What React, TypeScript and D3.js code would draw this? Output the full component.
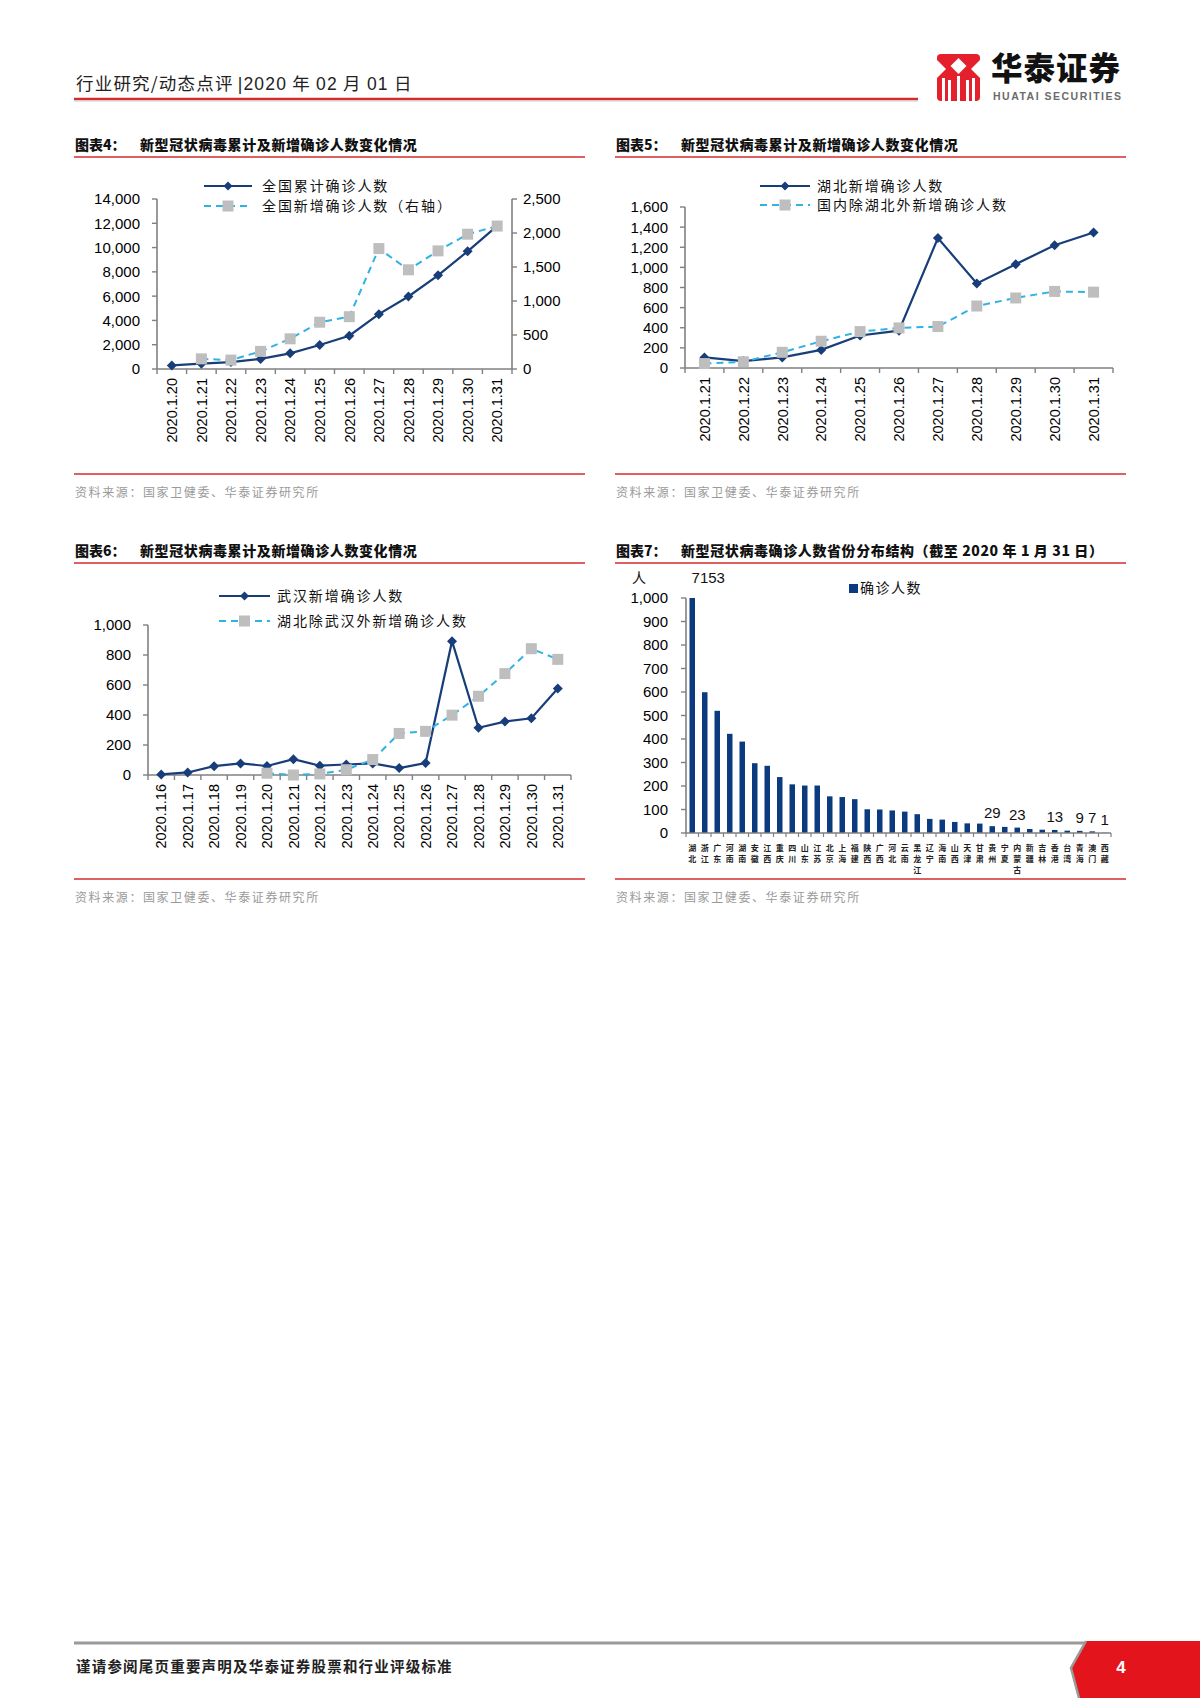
import React from 'react';
import * as d3 from 'd3';

// ---------------- DATA ----------------
const dates4 = ['2020.1.20', '2020.1.21', '2020.1.22', '2020.1.23', '2020.1.24', '2020.1.25', '2020.1.26', '2020.1.27', '2020.1.28', '2020.1.29', '2020.1.30', '2020.1.31'];
const nationalCumulative = [291, 440, 571, 830, 1287, 1975, 2744, 4515, 5974, 7711, 9692, 11791];
const nationalNew: (number | null)[] = [null, 149, 131, 259, 444, 688, 769, 1771, 1459, 1737, 1982, 2102];
const ticks4Left = [0, 2000, 4000, 6000, 8000, 10000, 12000, 14000];
const ticks4Right = [0, 500, 1000, 1500, 2000, 2500];

const dates5 = ['2020.1.21', '2020.1.22', '2020.1.23', '2020.1.24', '2020.1.25', '2020.1.26', '2020.1.27', '2020.1.28', '2020.1.29', '2020.1.30', '2020.1.31'];
const hubeiNew = [105, 69, 105, 180, 323, 371, 1291, 840, 1032, 1220, 1347];
const outsideHubeiNew = [44, 62, 156, 266, 362, 398, 412, 616, 696, 761, 754];
const ticks5 = [0, 200, 400, 600, 800, 1000, 1200, 1400, 1600];

const dates6 = ['2020.1.16', '2020.1.17', '2020.1.18', '2020.1.19', '2020.1.20', '2020.1.21', '2020.1.22', '2020.1.23', '2020.1.24', '2020.1.25', '2020.1.26', '2020.1.27', '2020.1.28', '2020.1.29', '2020.1.30', '2020.1.31'];
const wuhanNew = [4, 17, 59, 77, 60, 105, 62, 70, 77, 46, 80, 892, 315, 356, 378, 576];
const hubeiExWuhanNew: (number | null)[] = [null, null, null, null, 12, 0, 7, 35, 103, 277, 291, 399, 525, 676, 842, 771];
const ticks6 = [0, 200, 400, 600, 800, 1000];

const provinces = ['湖北', '浙江', '广东', '河南', '湖南', '安徽', '江西', '重庆', '四川', '山东', '江苏', '北京', '上海', '福建', '陕西', '广西', '河北', '云南', '黑龙江', '辽宁', '海南', '山西', '天津', '甘肃', '贵州', '宁夏', '内蒙古', '新疆', '吉林', '香港', '台湾', '青海', '澳门', '西藏'];
const provinceCases = [7153, 599, 520, 422, 389, 297, 286, 238, 207, 202, 202, 156, 153, 144, 101, 100, 96, 91, 80, 60, 57, 47, 41, 40, 29, 26, 23, 17, 14, 13, 10, 9, 7, 1];
const labeledProvinces = ['湖北', '贵州', '内蒙古', '香港', '青海', '澳门', '西藏'];
const ticks7 = [0, 100, 200, 300, 400, 500, 600, 700, 800, 900, 1000];

// ---------------- STYLE ----------------
const CJK = '"Noto Sans CJK SC", "Noto Sans", sans-serif';
const NUM = '"Liberation Sans", Arial, sans-serif';
const NAVY = '#183E7A';
const CYAN = '#31B2E4';
const SQ = '#BEBEBE';
const RED = '#D52B2B';
const AXIS = '#808080';
const fmt = d3.format(',');

function diamondPath(x: number, y: number, r: number) {
  return `M${x},${y - r}L${x + r},${y}L${x},${y + r}L${x - r},${y}Z`;
}

type Series = { values: (number | null)[]; dashed: boolean; right?: boolean };

function LineChart(props: {
  cats: string[]; left: number; right: number; bottom: number; top: number;
  yMax: number; yTicks: number[]; series: Series[];
  rMax?: number; rTicks?: number[];
}) {
  const { cats, left, right, bottom, top, yMax, yTicks, series, rMax, rTicks } = props;
  const x = d3.scaleBand<string>().domain(cats).range([left, right]).padding(0);
  const bw = x.bandwidth();
  const cx = (c: string) => (x(c) as number) + bw / 2;
  const yL = d3.scaleLinear().domain([0, yMax]).range([bottom, top]);
  const yR = d3.scaleLinear().domain([0, rMax || 1]).range([bottom, top]);
  const bounds = d3.range(cats.length + 1).map((i) => left + i * bw);
  return (
    <g>
      <line x1={left} x2={left} y1={top} y2={bottom} stroke={AXIS} strokeWidth={1.6} />
      {yTicks.map((t) => (
        <g key={'l' + t}>
          <line x1={left - 5} x2={left} y1={yL(t)} y2={yL(t)} stroke={AXIS} strokeWidth={1.4} />
          <text x={left - 17} y={yL(t)} dy="0.36em" textAnchor="end" fontFamily={NUM} fontSize={15} fill="#000">{fmt(t)}</text>
        </g>
      ))}
      {rTicks && (
        <g>
          <line x1={right} x2={right} y1={top} y2={bottom} stroke={AXIS} strokeWidth={1.6} />
          {rTicks.map((t) => (
            <g key={'r' + t}>
              <line x1={right} x2={right + 5} y1={yR(t)} y2={yR(t)} stroke={AXIS} strokeWidth={1.4} />
              <text x={right + 11} y={yR(t)} dy="0.36em" textAnchor="start" fontFamily={NUM} fontSize={15} fill="#000">{fmt(t)}</text>
            </g>
          ))}
        </g>
      )}
      <line x1={left} x2={right} y1={bottom} y2={bottom} stroke={AXIS} strokeWidth={1.6} />
      {bounds.map((b, i) => (
        <line key={'b' + i} x1={b} x2={b} y1={bottom} y2={bottom + 5} stroke={AXIS} strokeWidth={1.4} />
      ))}
      {cats.map((c) => (
        <text key={c} transform={`translate(${cx(c)},${bottom + 9}) rotate(-90)`} textAnchor="end" dy="0.36em" fontFamily={NUM} fontSize={14.5} fill="#000">{c}</text>
      ))}
      {series.map((s, si) => {
        const ys = s.right ? yR : yL;
        const line = d3.line<number | null>()
          .defined((v) => v !== null)
          .x((_, i) => cx(cats[i]))
          .y((v) => ys(v as number));
        return (
          <g key={'s' + si}>
            <path d={line(s.values) || ''} fill="none" stroke={s.dashed ? CYAN : NAVY} strokeWidth={s.dashed ? 2 : 2.2} strokeDasharray={s.dashed ? '7 5' : undefined} />
            {s.values.map((v, i) => v === null ? null : s.dashed ? (
              <rect key={i} x={cx(cats[i]) - 5.5} y={ys(v) - 5.5} width={11} height={11} fill={SQ} />
            ) : (
              <path key={i} d={diamondPath(cx(cats[i]), ys(v), 5)} fill={NAVY} />
            ))}
          </g>
        );
      })}
    </g>
  );
}

function Legend(props: { x1: number; x2: number; y: number; dashed: boolean; label: string; tx: number }) {
  const { x1, x2, y, dashed, label, tx } = props;
  const mx = (x1 + x2) / 2;
  return (
    <g>
      <line x1={x1} x2={x2} y1={y} y2={y} stroke={dashed ? CYAN : NAVY} strokeWidth={2} strokeDasharray={dashed ? '7 5' : undefined} />
      {dashed ? <rect x={mx - 5.5} y={y - 5.5} width={11} height={11} fill={SQ} /> : <path d={diamondPath(mx, y, 4.5)} fill={NAVY} />}
      <text x={tx} y={y} dy="0.35em" fontFamily={CJK} fontSize={14} letterSpacing={1.9} fill="#111">{label}</text>
    </g>
  );
}

function Title(props: { x: number; y: number; prefix: string; text: string; lineEnd: number }) {
  const { x, y, prefix, text, lineEnd } = props;
  return (
    <g>
      <text x={x + 1} y={y} fontFamily={CJK} fontWeight={900} fontSize={14} fill="#111">{prefix}</text>
      <text x={x + 66} y={y} fontFamily={CJK} fontWeight={900} fontSize={14} letterSpacing={0.6} fill="#111">{text}</text>
      <line x1={x} x2={lineEnd} y1={y + 7} y2={y + 7} stroke={RED} strokeWidth={1.3} />
    </g>
  );
}

function Source(props: { x: number; y: number; lineEnd: number }) {
  const { x, y, lineEnd } = props;
  return (
    <g>
      <line x1={x} x2={lineEnd} y1={y} y2={y} stroke={RED} strokeWidth={1.3} />
      <text x={x + 1} y={y + 19} dy="0.35em" fontFamily={CJK} fontSize={12} letterSpacing={1.6} fill="#9a9a9a">资料来源：国家卫健委、华泰证券研究所</text>
    </g>
  );
}

function BarChart() {
  const left = 686, right = 1111, bottom = 833, top = 598, yMax = 1000;
  const x = d3.scaleBand<string>().domain(provinces).range([left, right]).paddingInner(0.56).paddingOuter(0.28);
  const y = d3.scaleLinear().domain([0, yMax]).range([bottom, top]);
  const bounds = d3.range(provinces.length + 1).map((i) => left + i * ((right - left) / provinces.length));
  return (
    <g>
      <line x1={left} x2={left} y1={top} y2={bottom} stroke={AXIS} strokeWidth={1.6} />
      {ticks7.map((t) => (
        <g key={t}>
          <line x1={left - 5} x2={left} y1={y(t)} y2={y(t)} stroke={AXIS} strokeWidth={1.4} />
          <text x={left - 18} y={y(t)} dy="0.36em" textAnchor="end" fontFamily={NUM} fontSize={15} fill="#000">{fmt(t)}</text>
        </g>
      ))}
      {provinces.map((p, i) => {
        const v = provinceCases[i];
        const vy = y(Math.min(v, yMax));
        const bx = x(p) as number;
        const bcx = bx + x.bandwidth() / 2;
        return (
          <g key={p}>
            <rect x={bx} y={vy} width={x.bandwidth()} height={bottom - vy} fill="#0C3A7E" />
            {labeledProvinces.includes(p) && (
              <text x={v > yMax ? bcx + 16 : bcx} y={v > yMax ? vy - 15 : vy - 8} textAnchor="middle" fontFamily={NUM} fontSize={15} fill="#111">{v}</text>
            )}
            {p.split('').map((ch, k) => (
              <text key={k} x={bcx} y={bottom + 15 + k * 11} dy="0.35em" textAnchor="middle" fontFamily={CJK} fontWeight={700} fontSize={8} fill="#222">{ch}</text>
            ))}
          </g>
        );
      })}
      <line x1={left} x2={right} y1={bottom} y2={bottom} stroke={AXIS} strokeWidth={1.6} />
      {bounds.map((b, i) => (
        <line key={'b' + i} x1={b} x2={b} y1={bottom} y2={bottom + 4} stroke={AXIS} strokeWidth={1.2} />
      ))}
      <text x={639} y={578} dy="0.35em" textAnchor="middle" fontFamily={CJK} fontSize={14} fill="#111">人</text>
      <rect x={849} y={584} width={9} height={9} fill="#0C3A7E" />
      <text x={860} y={588.5} dy="0.35em" fontFamily={CJK} fontSize={14} letterSpacing={1.5} fill="#111">确诊人数</text>
    </g>
  );
}

function Logo() {
  return (
    <g>
      <rect x={937} y={54} width={43} height={47} rx={4} fill="#E3202B" />
      <path d={diamondPath(958.5, 66, 8)} fill="#fff" />
      <path d="M937,60 L946,69 L937,78 Z" fill="#fff" />
      <path d="M980,60 L971,69 L980,78 Z" fill="#fff" />
      <rect x={942} y={78} width={3} height={23} fill="#fff" />
      <rect x={948} y={80} width={3} height={21} fill="#fff" />
      <rect x={966} y={80} width={3} height={21} fill="#fff" />
      <rect x={972} y={78} width={3} height={23} fill="#fff" />
      <rect x={957} y={76} width={3} height={25} fill="#fff" />
      <text x={991} y={80} fontFamily={CJK} fontWeight={900} fontSize={31.5} letterSpacing={1} fill="#111">华泰证券</text>
      <text x={993} y={100} fontFamily={NUM} fontWeight={700} fontSize={10.5} letterSpacing={1.5} fill="#6b6b6b">HUATAI SECURITIES</text>
    </g>
  );
}

export default function App() {
  return (
    <svg width={1200} height={1698} viewBox="0 0 1200 1698" style={{ position: 'absolute', left: 0, top: 0, display: 'block', background: '#fff' }}>
      <rect x={0} y={0} width={1200} height={1698} fill="#fff" />
      <text x={76} y={90} fontFamily={CJK} fontSize={17.5} letterSpacing={1.2} fill="#222">行业研究/动态点评<tspan fontFamily={NUM} dx={4}>|2020</tspan> 年 <tspan fontFamily={NUM}>02</tspan> 月 <tspan fontFamily={NUM}>01</tspan> 日</text>
      <line x1={74} x2={918} y1={99} y2={99} stroke={RED} strokeWidth={2.5} />
      <line x1={74} x2={918} y1={101} y2={101} stroke="#c9c9c9" strokeWidth={1} />
      <Logo />

      <Title x={74} y={150} prefix="图表4：" text="新型冠状病毒累计及新增确诊人数变化情况" lineEnd={585} />
      <Legend x1={204} x2={252} y={186} dashed={false} label="全国累计确诊人数" tx={262} />
      <Legend x1={204} x2={252} y={206} dashed={true} label="全国新增确诊人数（右轴）" tx={262} />
      <LineChart cats={dates4} left={157} right={512} bottom={369} top={199} yMax={14000} yTicks={ticks4Left}
        rMax={2500} rTicks={ticks4Right}
        series={[{ values: nationalCumulative, dashed: false }, { values: nationalNew, dashed: true, right: true }]} />
      <Source x={74} y={474} lineEnd={585} />

      <Title x={615} y={150} prefix="图表5：" text="新型冠状病毒累计及新增确诊人数变化情况" lineEnd={1126} />
      <Legend x1={760} x2={810} y={186} dashed={false} label="湖北新增确诊人数" tx={817} />
      <Legend x1={760} x2={810} y={205} dashed={true} label="国内除湖北外新增确诊人数" tx={817} />
      <LineChart cats={dates5} left={685} right={1113} bottom={368} top={207} yMax={1600} yTicks={ticks5}
        series={[{ values: hubeiNew, dashed: false }, { values: outsideHubeiNew, dashed: true }]} />
      <Source x={615} y={474} lineEnd={1126} />

      <Title x={74} y={556} prefix="图表6：" text="新型冠状病毒累计及新增确诊人数变化情况" lineEnd={585} />
      <Legend x1={219} x2={270} y={596} dashed={false} label="武汉新增确诊人数" tx={277} />
      <Legend x1={219} x2={270} y={621} dashed={true} label="湖北除武汉外新增确诊人数" tx={277} />
      <LineChart cats={dates6} left={148} right={571} bottom={775} top={625} yMax={1000} yTicks={ticks6}
        series={[{ values: wuhanNew, dashed: false }, { values: hubeiExWuhanNew, dashed: true }]} />
      <Source x={74} y={879} lineEnd={585} />

      <Title x={615} y={556} prefix="图表7：" text="新型冠状病毒确诊人数省份分布结构（截至 2020 年 1 月 31 日）" lineEnd={1126} />
      <BarChart />
      <Source x={615} y={879} lineEnd={1126} />

      <line x1={74} x2={1086} y1={1643} y2={1643} stroke="#9a9a9a" strokeWidth={3} />
      <path d="M1086,1641 L1200,1641 L1200,1698 L1079,1698 L1071,1668 Z" fill="#E3141B" />
      <path d="M1086,1641 L1071,1668 L1079,1698" fill="none" stroke="#9a9a9a" strokeWidth={2.5} />
      <text x={1121} y={1667} dy="0.36em" textAnchor="middle" fontFamily={NUM} fontWeight={700} fontSize={17} fill="#fff">4</text>
      <text x={76} y={1667} dy="0.36em" fontFamily={CJK} fontWeight={700} fontSize={14.5} letterSpacing={1.2} fill="#222">谨请参阅尾页重要声明及华泰证券股票和行业评级标准</text>
    </svg>
  );
}
